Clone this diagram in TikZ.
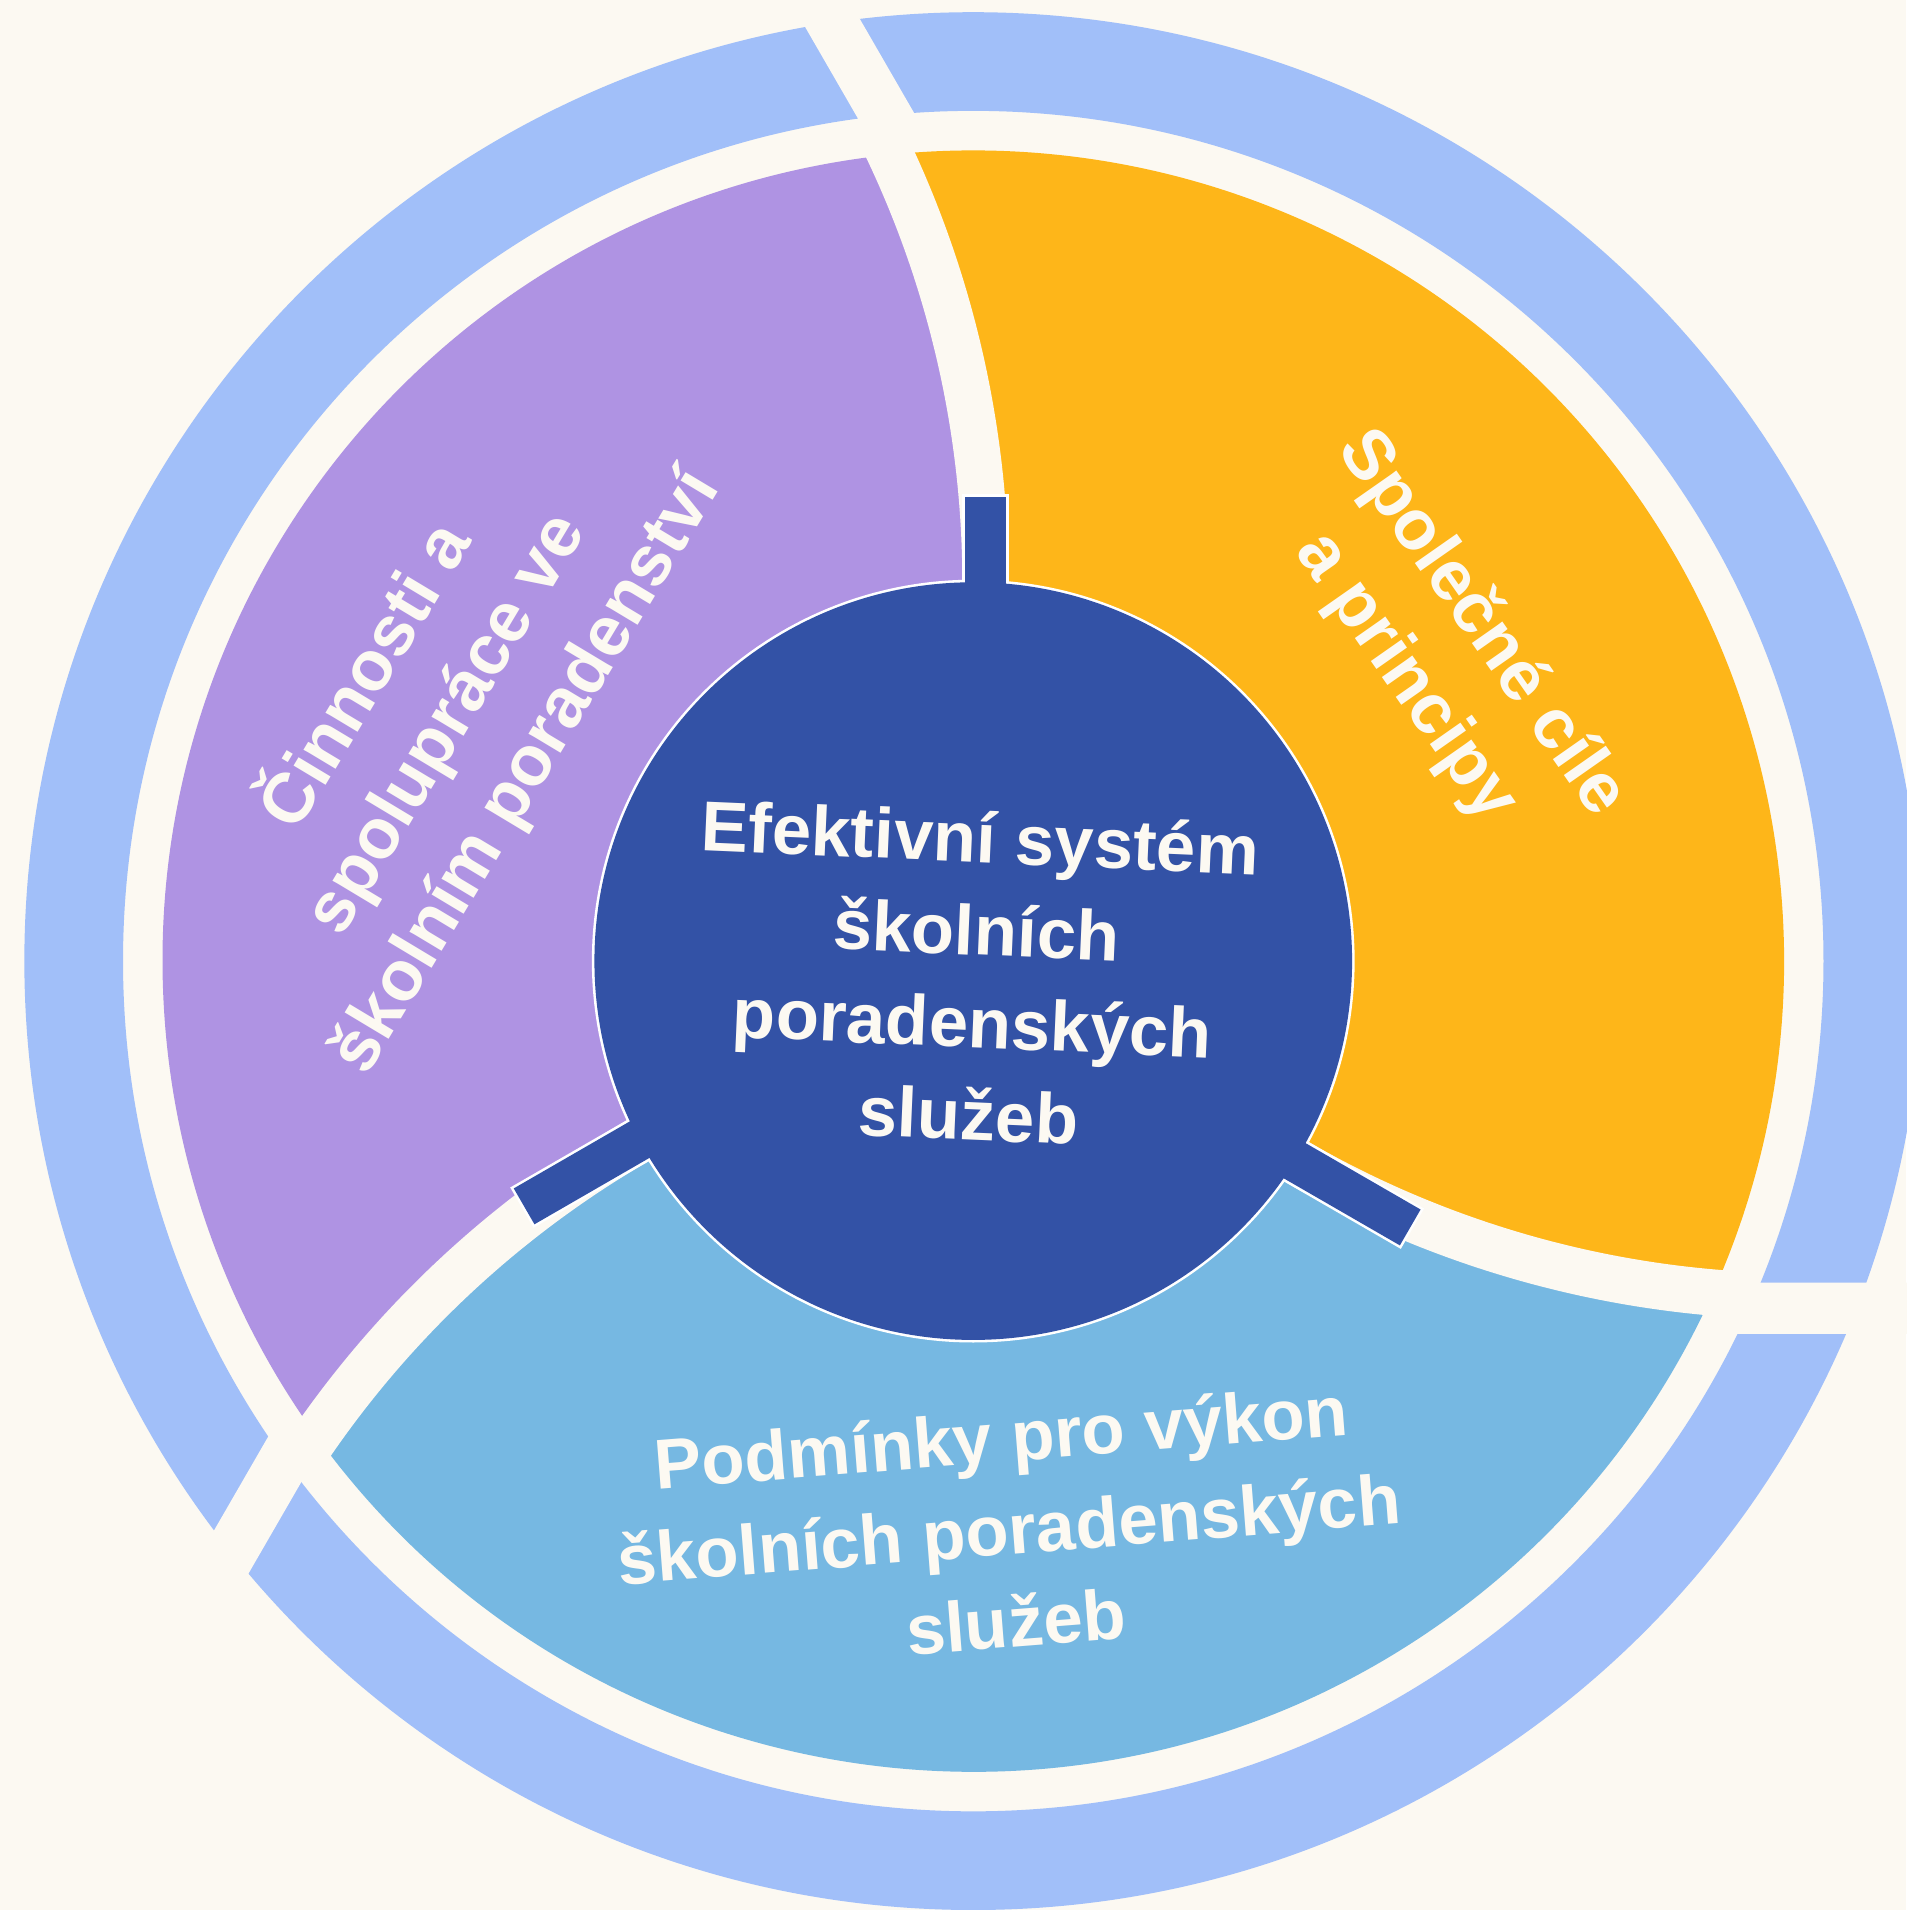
\documentclass[tikz,border=0pt]{standalone}
\usepackage{fontspec}
\setmainfont{Liberation Sans}
\definecolor{bgcream}{HTML}{FCF9F2}
\definecolor{ringblue}{HTML}{A1BFF9}
\definecolor{lilac}{HTML}{AF93E3}
\definecolor{amber}{HTML}{FEB619}
\definecolor{skyblue}{HTML}{76B8E2}
\definecolor{hubblue}{HTML}{3352A6}

\begin{document}
\begin{tikzpicture}[x=0.01cm, y=0.01cm,
  divgap/.style={draw=bgcream, line width=10.8pt},
  cutgap/.style={draw=bgcream, line width=12pt},
  hubline/.style={draw=white, line width=1.2pt},
  labeltext/.style={text=bgcream, align=center, inner sep=0pt,
    font=\fontsize{16.5}{21.6}\selectfont\bfseries}]
\path[use as bounding box, fill=bgcream] (-799,-779) rectangle (766,789);
\fill[ringblue, even odd rule] (0,0) circle[radius=779] (0,0) circle[radius=698];
\foreach \ang/\col in {0/lilac, 120/skyblue, -120/amber}
  \fill[\col, rotate=\ang] (0,0) -- (10,311) arc[start angle=0, end angle=25.05, radius=829]
    arc[start angle=95.86, end angle=215.86, radius=665.5]
    arc[start angle=145.05, end angle=120, radius=829] -- cycle;
\foreach \ang in {0,120,-120}{
  \begin{scope}[rotate=\ang]
  \draw[divgap] (10,311) arc[start angle=0, end angle=26.5, radius=829];
  \draw[cutgap] (-60.7,675.1) -- (-143.2,818);
  \end{scope}
}
\foreach \ang/\len in {0/381, 120/420, -120/420}
  \draw[hubline, rotate=\ang] (-7,290) rectangle (27,\len);
\draw[hubline] (0,0) circle[radius=311];
\foreach \ang/\len in {0/381, 120/420, -120/420}
  \fill[hubblue, rotate=\ang] (-7,290) rectangle (27,\len);
\fill[hubblue] (0,0) circle[radius=311];

\node[labeltext, rotate=-2.5] (hub) at (1,-12) {Efektivní systém\\školních\\poradenských\\služeb};
\node[labeltext, rotate=59] (cinnosti) at (-435,196) {Činnosti a\\spolupráce ve\\školním poradenství};
\node[labeltext, rotate=-55] (cile) at (386,255) {Společné cíle\\a principy};
\node[labeltext, rotate=4.5] (podminky) at (29,-466) {Podmínky pro výkon\\školních poradenských\\služeb};
\end{tikzpicture}
\end{document}
